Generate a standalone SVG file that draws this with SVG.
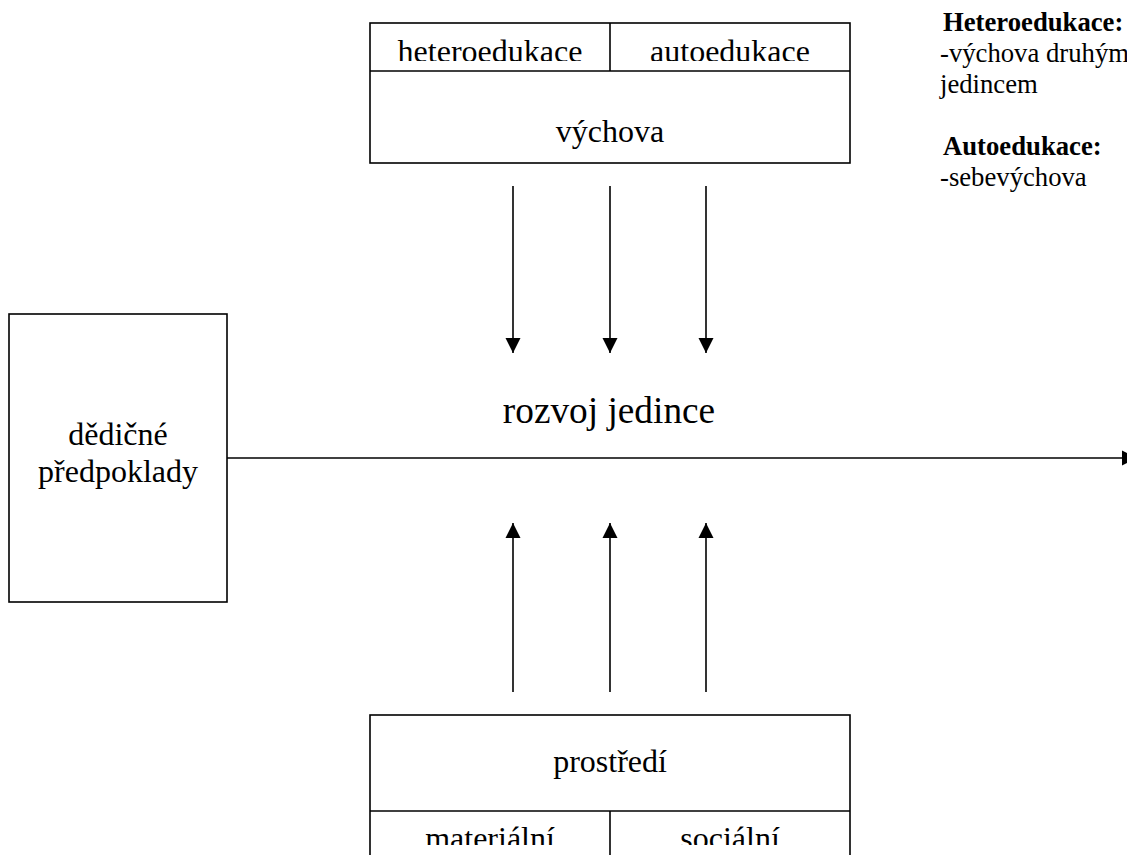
<svg xmlns="http://www.w3.org/2000/svg" width="1127" height="855" viewBox="0 0 1127 855">
<style>
.box{fill:#fff;stroke:#000;stroke-width:1.6}
.ln{stroke:#000;stroke-width:1.6;fill:none}
.t{font-family:"Liberation Serif","Times New Roman",serif;fill:#000;text-anchor:middle}
.s32{font-size:32px}
.s37{font-size:37.3px}
.n{font-family:"Liberation Serif","Times New Roman",serif;fill:#000;font-size:26.7px}
.b{font-weight:bold}
.conn{stroke:#000;stroke-width:1.6;fill:none;marker-end:url(#ah)}
</style>
<defs>
<marker id="ah" viewBox="0 0 10 10" refX="10" refY="5" markerWidth="15" markerHeight="16" markerUnits="userSpaceOnUse" orient="auto">
<path d="M0,0 L10,5 L0,10 z" fill="#000"/>
</marker>
<clipPath id="clipTop"><rect x="370" y="23" width="480" height="38"/></clipPath>
<clipPath id="clipBot"><rect x="370" y="811" width="480" height="34"/></clipPath>
</defs>
<rect width="1127" height="855" fill="#fff"/>

<g id="vychova">
<rect class="box" x="370" y="23" width="480" height="140"/>
<line class="ln" x1="370" y1="71" x2="850" y2="71"/>
<line class="ln" x1="610" y1="23" x2="610" y2="71"/>
<g clip-path="url(#clipTop)">
<text class="t s32" x="490" y="62">heteroedukace</text>
<text class="t s32" x="730" y="62">autoedukace</text>
</g>
<text class="t s32" x="610" y="142">výchova</text>
</g>

<g id="prostredi">
<rect class="box" x="370" y="715" width="480" height="160"/>
<line class="ln" x1="370" y1="811" x2="850" y2="811"/>
<line class="ln" x1="610" y1="811" x2="610" y2="875"/>
<text class="t s32" x="610" y="772">prostředí</text>
<g clip-path="url(#clipBot)">
<text class="t s32" x="490" y="849">materiální</text>
<text class="t s32" x="730" y="849">sociální</text>
</g>
</g>

<g id="dedicne">
<rect class="box" x="9" y="314" width="218" height="288"/>
<text class="t s32" x="118" y="445">dědičné</text>
<text class="t s32" x="118" y="482">předpoklady</text>
</g>

<g id="rozvoj">
<text class="t s37" x="609" y="423">rozvoj jedince</text>
</g>

<g id="legenda">
<text class="n b" x="943" y="31">Heteroedukace:</text>
<text class="n" x="940" y="62">-výchova druhým</text>
<text class="n" x="940" y="93">jedincem</text>
<text class="n b" x="943" y="155">Autoedukace:</text>
<text class="n" x="940" y="186">-sebevýchova</text>
</g>

<g id="connectors">
<line class="conn" x1="513" y1="186" x2="513" y2="353"/>
<line class="conn" x1="610" y1="186" x2="610" y2="353"/>
<line class="conn" x1="706" y1="186" x2="706" y2="353"/>
<line class="conn" x1="513" y1="692" x2="513" y2="523"/>
<line class="conn" x1="610" y1="692" x2="610" y2="523"/>
<line class="conn" x1="706" y1="692" x2="706" y2="523"/>
<line class="conn" x1="227" y1="458" x2="1137" y2="458"/>
</g>
</svg>
